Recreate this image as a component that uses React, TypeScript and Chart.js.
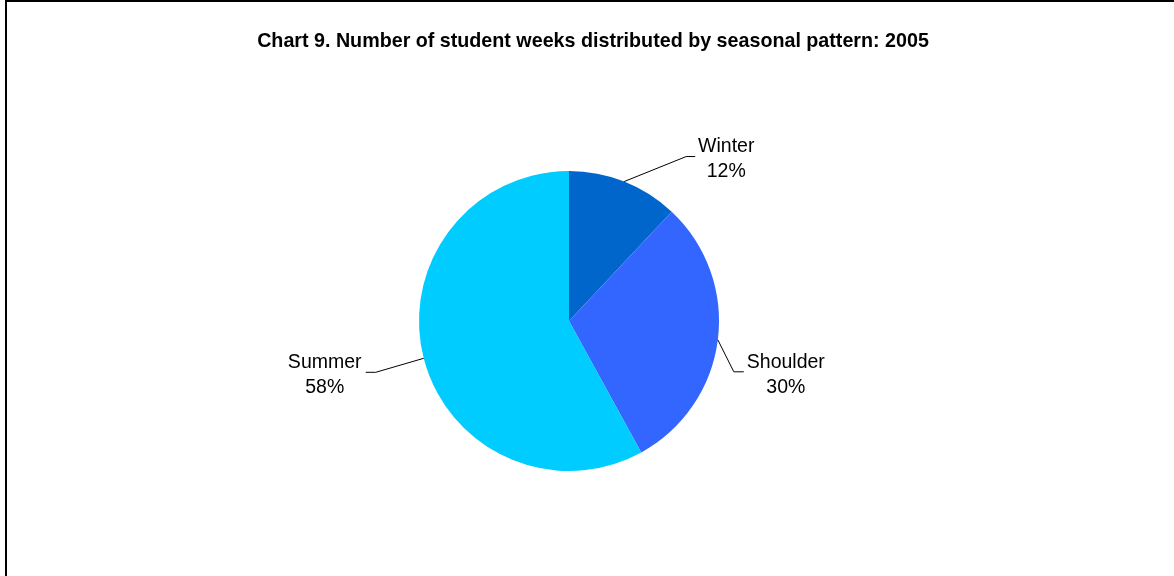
import React, { useEffect, useRef } from "react";
import { Chart, registerables } from "chart.js";

Chart.register(...registerables);

const chartTitle = "Chart 9. Number of student weeks distributed by seasonal pattern: 2005";
const categories = ["Winter", "Shoulder", "Summer"];
const shares = [12, 30, 58];
const sliceColors = ["#0066CC", "#3366FF", "#00CCFF"];

// leader-line geometry relative to the slice's outer mid-point: [elbowDx, elbowDy, endDx, textDx, textDy]
const leaderStyle = [
  [62, -25, 71, 102, -35],
  [16, 32, 26, 68, 23],
  [-48, 14, -58, -99, 4],
];

const FONT = "Liberation Sans, Arial, Helvetica, sans-serif";

const labelsPlugin = {
  id: "pieLabels",
  afterDraw(chart: any) {
    const ctx = chart.ctx;
    ctx.save();
    // title
    ctx.fillStyle = "#000";
    ctx.font = `bold 19.7px ${FONT}`;
    ctx.textAlign = "center";
    ctx.textBaseline = "middle";
    ctx.fillText(chartTitle, 593, 42);

    const meta = chart.getDatasetMeta(0);
    meta.data.forEach((arc: any, i: number) => {
      const mid = (arc.startAngle + arc.endAngle) / 2;
      const px = arc.x + Math.cos(mid) * arc.outerRadius;
      const py = arc.y + Math.sin(mid) * arc.outerRadius;
      const [ex, ey, endx, tx, ty] = leaderStyle[i];
      ctx.strokeStyle = "#000";
      ctx.lineWidth = 1;
      ctx.beginPath();
      ctx.moveTo(px, py);
      ctx.lineTo(px + ex, py + ey);
      ctx.lineTo(px + endx, py + ey);
      ctx.stroke();
      ctx.font = `19.5px ${FONT}`;
      ctx.fillStyle = "#000";
      ctx.textAlign = "center";
      ctx.textBaseline = "middle";
      ctx.fillText(categories[i], px + tx, py + ty);
      ctx.fillText(`${shares[i]}%`, px + tx, py + ty + 25);
    });
    ctx.restore();
  },
};

export default function App() {
  const ref = useRef<HTMLCanvasElement | null>(null);
  useEffect(() => {
    document.body.style.margin = "0";
    if (!ref.current) return;
    const chart = new Chart(ref.current, {
      type: "pie",
      data: {
        labels: categories,
        datasets: [
          {
            data: shares,
            backgroundColor: sliceColors,
            borderWidth: 0,
          },
        ],
      },
      options: {
        responsive: false,
        animation: false,
        layout: { padding: { top: 171, bottom: 105, left: 419, right: 455 } },
        plugins: {
          legend: { display: false },
          title: { display: false },
          tooltip: { enabled: false },
        },
      },
      plugins: [labelsPlugin],
    });
    return () => chart.destroy();
  }, []);
  return (
    <div style={{ position: "relative", width: 1174, height: 576, overflow: "hidden", background: "#fff" }}>
      <div
        style={{
          position: "absolute",
          left: 5,
          top: 0,
          width: 2000,
          height: 2000,
          border: "2px solid #000",
          boxSizing: "border-box",
        }}
      />
      <canvas ref={ref} width={1174} height={576} style={{ position: "absolute", left: 0, top: 0 }} />
    </div>
  );
}
